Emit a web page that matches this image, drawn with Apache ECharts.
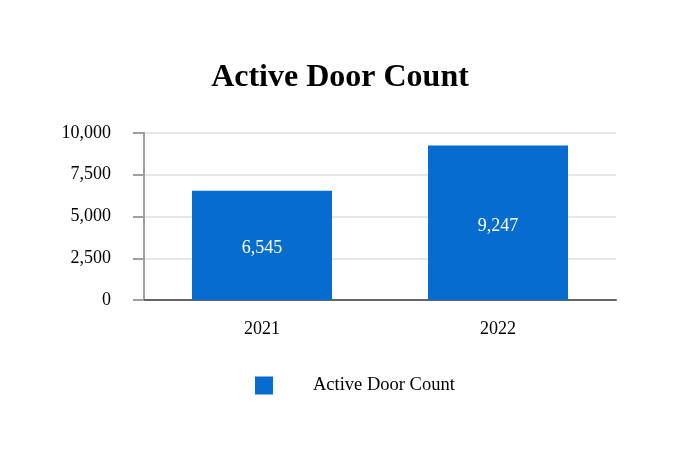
<!DOCTYPE html>
<html>
<head>
<meta charset="utf-8">
<script src="https://cdn.jsdelivr.net/npm/echarts@6/dist/echarts.min.js"></script>
<style>html,body{margin:0;padding:0;background:#fff}#c{width:680px;height:470px}</style>
</head>
<body>
<div id="c"></div>
<script>
const categories = ['2021', '2022'];
const seriesName = 'Active Door Count';
const values = [6545, 9247];
const yTicks = [0, 2500, 5000, 7500, 10000];

const font = '"Liberation Serif", "Times New Roman", serif';
const chart = echarts.init(document.getElementById('c'), null, {renderer: 'canvas'});
chart.setOption({
  animation: false,
  backgroundColor: '#fff',
  title: {
    text: 'Active Door Count',
    left: 'center',
    top: 57,
    textStyle: {fontFamily: font, fontSize: 32, fontWeight: 'bold', color: '#000'}
  },
  legend: {
    data: [seriesName],
    left: 250,
    top: 371,
    itemWidth: 18,
    itemHeight: 18,
    icon: 'rect',
    textStyle: {fontFamily: font, fontSize: 18.5, color: '#000', padding: [0, 0, 0, 35]}
  },
  grid: {left: 144, right: 64, top: 133, bottom: 170, containLabel: false},
  xAxis: {
    type: 'category',
    data: categories,
    axisLine: {lineStyle: {color: '#666', width: 2}},
    axisTick: {show: false},
    axisLabel: {fontFamily: font, fontSize: 18, color: '#000', margin: 20}
  },
  yAxis: {
    type: 'value',
    min: yTicks[0],
    max: yTicks[yTicks.length - 1],
    interval: yTicks[1] - yTicks[0],
    axisLine: {show: true, lineStyle: {color: '#9e9e9e', width: 2}},
    axisTick: {show: true, length: 11, lineStyle: {color: '#9e9e9e', width: 2}},
    splitLine: {lineStyle: {color: '#e6e6e6', width: 2}},
    axisLabel: {
      fontFamily: font, fontSize: 18, color: '#000', margin: 33,
      padding: [5, 0, 0, 0],
      formatter: v => v.toLocaleString('en-US')
    }
  },
  series: [{
    name: seriesName,
    type: 'bar',
    data: values,
    barWidth: 140,
    itemStyle: {color: '#066ccf'},
    label: {
      show: true,
      position: 'inside',
      offset: [0, 3],
      color: '#fff',
      fontFamily: font,
      fontSize: 18,
      formatter: p => p.value.toLocaleString('en-US')
    }
  }]
});
</script>
</body>
</html>
